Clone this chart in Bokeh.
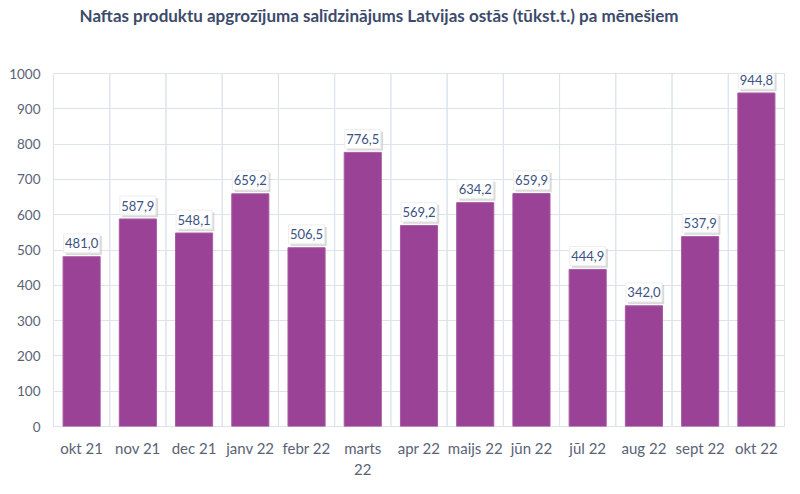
from bokeh.plotting import figure
from bokeh.models import FactorRange, Range1d, ColumnDataSource, FixedTicker
from bokeh.transform import dodge
from bokeh.core.properties import value
from bokeh.embed import file_html
from bokeh.resources import INLINE

# ---- data ----
months = ["okt 21", "nov 21", "dec 21", "janv 22", "febr 22", "marts\n22", "apr 22",
          "maijs 22", "jūn 22", "jūl 22", "aug 22", "sept 22", "okt 22"]
tonnes = [481.0, 587.9, 548.1, 659.2, 506.5, 776.5, 569.2, 634.2, 659.9, 444.9, 342.0, 537.9, 944.8]
y_ticks = [0, 100, 200, 300, 400, 500, 600, 700, 800, 900, 1000]
title_text = "Naftas produktu apgrozījuma salīdzinājums Latvijas ostās (tūkst.t.) pa mēnešiem"

labels = [f"{v:.1f}".replace(".", ",") for v in tonnes]
LABEL_OFF = 38
SHADOW_OFF = 32
src = ColumnDataSource(dict(
    m=months, v=tonnes, lab=labels,
    ly=[v + LABEL_OFF for v in tonnes],
    sy=[v + SHADOW_OFF for v in tonnes],
    mid=[500] * len(months),
))

FONT = "Lato"
GRID = "#DCE3EC"
TICK_COLOR = "#5A6275"

p = figure(width=792, height=486, x_range=FactorRange(*months, range_padding=0),
           y_range=Range1d(0, 1000), output_backend="svg", toolbar_location=None,
           min_border_left=53, min_border_right=8, min_border_bottom=60, min_border_top=73)

p.title.text = title_text + "\n \n "
p.title.text_font = FONT
p.title.text_font_size = "17px"
p.title.text_font_style = "bold"
p.title.text_color = "#3C4B6B"
p.title.text_line_height = 1.1
p.title.align = "left"
p.title.offset = 26
p.title.standoff = 2

p.outline_line_color = GRID
p.xgrid.grid_line_color = None
p.ygrid.grid_line_color = GRID
p.ygrid.ticker = FixedTicker(ticks=y_ticks)

# vertical category separators
p.rect(x="m", y="mid", width=1, height=1000, source=src, fill_alpha=0,
       line_color=GRID, line_width=1)

p.vbar(x="m", top="v", width=0.66, source=src, fill_color="#9A4396",
       line_color="#A85AA4", line_width=1)

# label boxes: shadow + white box
p.rect(x=dodge("m", 0.04, range=p.x_range), y="sy", width=0.64, height=19,
       height_units="screen", source=src, fill_color="#BBBBBB", fill_alpha=0.55,
       line_color=None)
p.rect(x="m", y="ly", width=0.64, height=19, height_units="screen", source=src,
       fill_color="white", line_color="#EEEEEE")
p.text(x="m", y="ly", text="lab", source=src, text_align="center",
       text_baseline="middle", text_font=value(FONT), text_font_size="13px",
       text_color="#3B5282")

p.yaxis.ticker = FixedTicker(ticks=y_ticks)
for ax in (p.xaxis[0], p.yaxis[0]):
    ax.axis_line_color = None
    ax.major_tick_line_color = None
    ax.minor_tick_line_color = None
    ax.major_tick_in = 0
    ax.major_tick_out = 0
    ax.major_label_text_font = FONT
    ax.major_label_text_font_size = "13.5px"
    ax.major_label_text_color = TICK_COLOR
p.yaxis.major_label_standoff = 13
p.xaxis.major_label_text_font_size = "15px"
p.xaxis.major_label_standoff = 12

open("out.html", "w").write(file_html(p, INLINE))
